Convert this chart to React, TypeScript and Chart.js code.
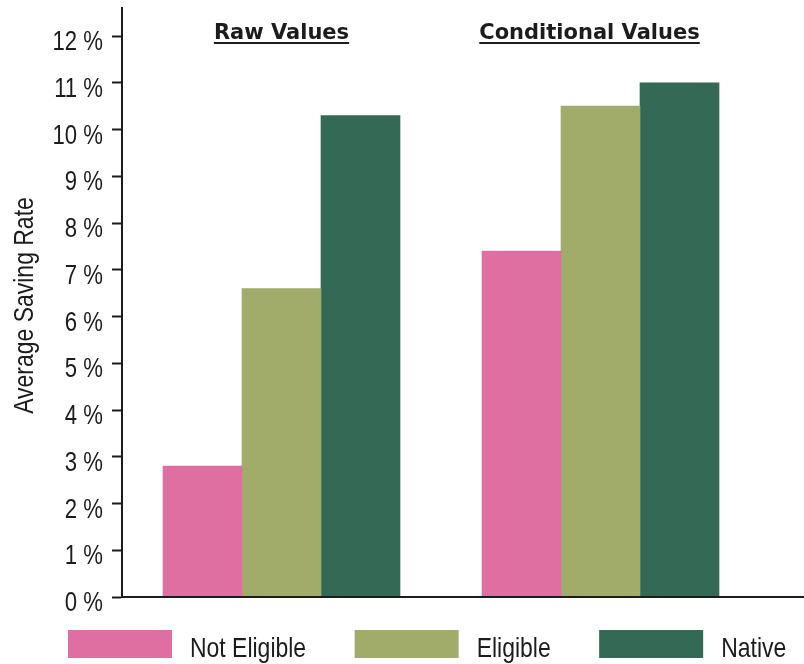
import React, { useEffect, useRef } from "react";
import { Chart, registerables } from "chart.js";

Chart.register(...registerables);

// Groups and series
const groups = ["Raw Values", "Conditional Values"];
const seriesNames = ["Not Eligible", "Eligible", "Native"];
const notEligible = [2.8, 7.4];
const eligible = [6.6, 10.5];
const native = [10.3, 11.0];
const seriesColors = ["#DF6FA0", "#A2AC6A", "#346955"];
const yTickLabels = ["0 %", "1 %", "2 %", "3 %", "4 %", "5 %", "6 %", "7 %", "8 %", "9 %", "10 %", "11 %", "12 %"];
const yAxisTitle = "Average Saving Rate";

const SANS = '"Liberation Sans", Arial, Helvetica, sans-serif';
const HEAD = '"DejaVu Sans", Verdana, sans-serif';
const INK = "#1c1c1c";
const NARROW = 0.82; // horizontal squeeze that gives the labels their condensed look

function condensedText(ctx: CanvasRenderingContext2D, text: string, x: number, y: number, align: CanvasTextAlign) {
  ctx.save();
  ctx.translate(x, y);
  ctx.scale(NARROW, 1);
  ctx.textAlign = align;
  ctx.textBaseline = "alphabetic";
  ctx.fillText(text, 0, 0);
  ctx.restore();
}

// Axis labels, baseline, underlined group headings and the legend
const decorations = {
  id: "decorations",
  afterDraw(chart: any) {
    const { ctx, chartArea, scales } = chart;
    const W = chart.width;
    ctx.save();

    // baseline running to the right edge
    ctx.strokeStyle = INK;
    ctx.lineWidth = 2;
    ctx.beginPath();
    ctx.moveTo(chartArea.left - 1, chartArea.bottom);
    ctx.lineTo(W, chartArea.bottom);
    ctx.stroke();

    // y tick labels
    const ys = scales.y;
    ctx.fillStyle = INK;
    ctx.font = `27px ${SANS}`;
    ys.ticks.forEach((t: any) => {
      const label = yTickLabels[Math.round(t.value)];
      if (label === undefined) return;
      condensedText(ctx, label, chartArea.left - 19, ys.getPixelForValue(t.value) + 14, "right");
    });

    // y axis title
    ctx.save();
    ctx.font = `28px ${SANS}`;
    ctx.translate(33, (chartArea.top + chartArea.bottom) / 2 + 3);
    ctx.rotate(-Math.PI / 2);
    ctx.scale(NARROW, 1);
    ctx.textAlign = "center";
    ctx.textBaseline = "alphabetic";
    ctx.fillText(yAxisTitle, 0, 0);
    ctx.restore();

    // group headings
    const shifts = [0, -11];
    ctx.font = `bold 21px ${HEAD}`;
    ctx.textAlign = "center";
    ctx.textBaseline = "alphabetic";
    groups.forEach((g, i) => {
      const cx = scales.x.getPixelForValue(i) + shifts[i];
      const w = ctx.measureText(g).width;
      ctx.fillText(g, cx, 39);
      ctx.fillRect(cx - w / 2, 42, w, 2);
    });

    // legend
    ctx.font = `28px ${SANS}`;
    let x = 68;
    chart.data.datasets.forEach((ds: any) => {
      ctx.fillStyle = ds.backgroundColor;
      ctx.fillRect(x, 630, 104, 28);
      x += 104 + 18;
      ctx.fillStyle = INK;
      condensedText(ctx, ds.label, x, 657, "left");
      x += ctx.measureText(ds.label).width * NARROW + 48.5;
    });
    ctx.restore();
  },
};

export default function App() {
  const ref = useRef<HTMLCanvasElement | null>(null);

  useEffect(() => {
    if (!ref.current) return;
    const values = [notEligible, eligible, native];
    const chart = new Chart(ref.current, {
      type: "bar",
      data: {
        labels: groups,
        datasets: seriesNames.map((name, i) => ({
          label: name,
          data: values[i],
          backgroundColor: seriesColors[i],
          borderWidth: 0,
          barThickness: 79,
        })),
      },
      options: {
        responsive: false,
        animation: false,
        layout: { padding: { top: 8, bottom: 67, left: 0, right: 44 } },
        plugins: {
          legend: { display: false },
          tooltip: { enabled: false },
          title: { display: false },
        },
        scales: {
          x: {
            display: false,
          },
          y: {
            min: 0,
            max: 12.6,
            ticks: {
              stepSize: 1,
              includeBounds: false,
              display: false,
            },
            grid: {
              display: true,
              drawOnChartArea: false,
              drawTicks: true,
              tickLength: 10,
              tickWidth: 2,
              tickColor: INK,
            },
            border: { display: true, color: INK, width: 2 },
            title: { display: false },
            afterFit: (s: any) => {
              s.width = 122;
              s.paddingTop = 0;
              s.paddingBottom = 0;
            },
          },
        },
      },
      plugins: [decorations],
    });
    return () => chart.destroy();
  }, []);

  return (
    <div style={{ position: "fixed", left: 0, top: 0, width: 804, height: 664, background: "#fff" }}>
      <canvas ref={ref} width={804} height={664} style={{ display: "block" }} />
    </div>
  );
}
